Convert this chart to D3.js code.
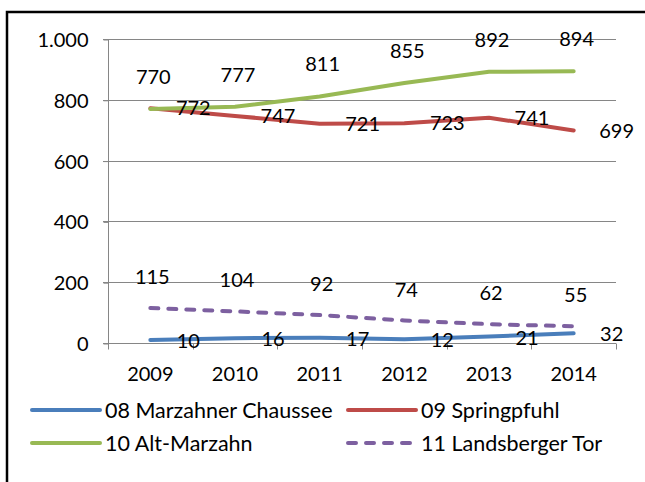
<!DOCTYPE html>
<html>
<head>
<meta charset="utf-8">
<script src="https://cdn.jsdelivr.net/npm/d3@7"></script>
<style>
  body { margin: 0; background: #fff; }
  svg { display: block; }
  text { font-family: Lato, "Open Sans", sans-serif; fill: #000; }
</style>
</head>
<body>
<svg id="chart" width="645" height="482"></svg>
<script>
const years = ["2009", "2010", "2011", "2012", "2013", "2014"];
const marzahnerChaussee = [10, 16, 17, 12, 21, 32];
const springpfuhl = [772, 747, 721, 723, 741, 699];
const altMarzahn = [770, 777, 811, 855, 892, 894];
const landsbergerTor = [115, 104, 92, 74, 62, 55];
const yTicks = [0, 200, 400, 600, 800, 1000];

const series = [
    { name: "08 Marzahner Chaussee", values: marzahnerChaussee, color: "#4a7ebb", dash: null, dx: 38, dy: 1 },
    { name: "09 Springpfuhl", values: springpfuhl, color: "#be4b48", dash: null, dx: 43, dy: 0 },
    { name: "10 Alt-Marzahn", values: altMarzahn, color: "#98b954", dash: null, dx: 3, dy: -32 },
    { name: "11 Landsberger Tor", values: landsbergerTor, color: "#7d60a0", dash: "8,10", dx: 2, dy: -31 }
];

const svg = d3.select("#chart");

// outer frame (cut off on the right and bottom like the original)
svg.append("rect")
    .attr("x", 7).attr("y", 12)
    .attr("width", 700).attr("height", 500)
    .attr("fill", "none")
    .attr("stroke", "#000")
    .attr("stroke-width", 2.5);

const x = d3.scaleBand().domain(years).range([108, 616]);
const y = d3.scaleLinear().domain([0, 1000]).range([343, 39]);
const fmt = d3.formatLocale({ decimal: ",", thousands: ".", grouping: [3] }).format(",");

// gridlines
svg.append("g")
    .selectAll("line")
    .data(yTicks.filter(d => d > 0))
    .join("line")
    .attr("x1", 103).attr("x2", 616)
    .attr("y1", d => Math.round(y(d)) + 0.5)
    .attr("y2", d => Math.round(y(d)) + 0.5)
    .attr("stroke", "#868686");

// y axis
const yAxis = svg.append("g")
    .attr("transform", "translate(108.5,0.5)")
    .call(d3.axisLeft(y).tickValues(yTicks).tickFormat(fmt).tickSize(5).tickPadding(15));
yAxis.select(".domain").attr("stroke", "#868686").attr("d", `M0,${y(1000)}V${y(0)}`);
yAxis.selectAll(".tick line").attr("stroke", "#868686");
yAxis.selectAll(".tick text").attr("font-size", 20).attr("dy", "0.35em");

// x axis with ticks at category boundaries
const xAxis = svg.append("g").attr("transform", `translate(0,${Math.round(y(0)) + 0.5})`);
xAxis.append("line")
    .attr("x1", 103).attr("x2", 616)
    .attr("stroke", "#868686");
xAxis.selectAll(".bound")
    .data(years.concat(["end"]))
    .join("line")
    .attr("class", "bound")
    .attr("x1", (d, i) => Math.round(108 + i * x.step()) + 0.5)
    .attr("x2", (d, i) => Math.round(108 + i * x.step()) + 0.5)
    .attr("y1", 0).attr("y2", 6)
    .attr("stroke", "#868686");
xAxis.selectAll(".lab")
    .data(years)
    .join("text")
    .attr("class", "lab")
    .attr("x", d => x(d) + x.bandwidth() / 2)
    .attr("y", 37)
    .attr("text-anchor", "middle")
    .attr("font-size", 20)
    .text(d => d);

const cx = (d, i) => x(years[i]) + x.bandwidth() / 2;
const line = d3.line().x(cx).y(d => y(d));

// lines
svg.append("g")
    .selectAll("path")
    .data(series)
    .join("path")
    .attr("d", s => line(s.values))
    .attr("fill", "none")
    .attr("stroke", s => s.color)
    .attr("stroke-width", 4)
    .attr("stroke-linecap", "round")
    .attr("stroke-linejoin", "round")
    .attr("stroke-dasharray", s => s.dash);

// data labels
series.forEach(s => {
    svg.append("g")
        .selectAll("text")
        .data(s.values)
        .join("text")
        .attr("x", (d, i) => cx(d, i) + s.dx)
        .attr("y", d => y(d) + s.dy)
        .attr("dy", "0.35em")
        .attr("text-anchor", "middle")
        .attr("font-size", 20)
        .text(d => d);
});

// legend
const legendCols = [32, 348];
const legendRows = [410, 443];
const legend = svg.append("g")
    .selectAll("g")
    .data(series)
    .join("g")
    .attr("transform", (s, i) => `translate(${legendCols[i % 2]},${legendRows[Math.floor(i / 2)]})`);
legend.append("line")
    .attr("x1", 0).attr("x2", 68)
    .attr("stroke", s => s.color)
    .attr("stroke-width", 4)
    .attr("stroke-linecap", "round")
    .attr("stroke-dasharray", s => s.dash ? "8,10" : null);
legend.append("text")
    .attr("x", 73)
    .attr("dy", "0.35em")
    .attr("font-size", 21.5)
    .text(s => s.name);
</script>
</body>
</html>
